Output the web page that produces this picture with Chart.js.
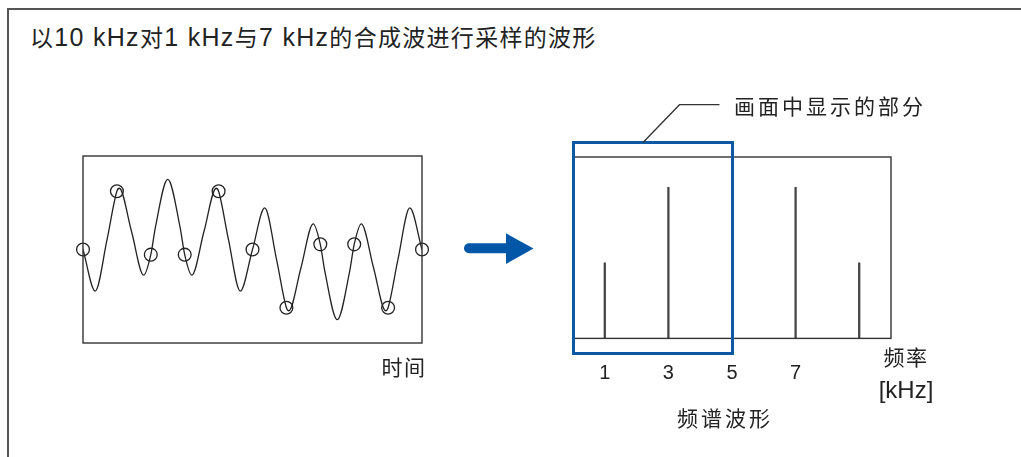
<!DOCTYPE html>
<html><head><meta charset="utf-8">
<script src="https://cdn.jsdelivr.net/npm/chart.js@4.4.1/dist/chart.umd.min.js"></script>
<style>
html,body{margin:0;padding:0;background:#fff;}
#wrap{position:relative;width:1021px;height:457px;overflow:hidden;background:#fff;
  font-family:"Liberation Sans","Noto Sans CJK SC",sans-serif;color:#222;}
.frame{position:absolute;left:7px;top:8px;width:1030px;height:470px;border-left:2px solid #555;border-top:2px solid #555;}
.t{position:absolute;white-space:nowrap;transform:translate(-50%,-50%);line-height:1;}
.c{font-size:23px;}
canvas{position:absolute;}
#blue{position:absolute;box-sizing:border-box;left:572px;top:141px;width:162px;height:214px;border:3px solid #0f58a6;}
</style></head>
<body><div id="wrap">
<div class="frame"></div>
<div class="t" id="title" style="left:30px;top:37px;transform:translate(0,-50%);font-size:25px;letter-spacing:1.3px;"><span class="c">以</span>10 kHz<span class="c">对</span>1 kHz<span class="c">与</span>7 kHz<span class="c">的合成波进行采样的波形</span></div>
<canvas id="wave" width="359" height="207" style="left:73px;top:146px;"></canvas>
<canvas id="spec" width="338" height="238" style="left:563px;top:147px;"></canvas>
<div id="blue"></div>
<svg style="position:absolute;left:0;top:0;" width="1021" height="457">
  <line x1="469" y1="248.3" x2="510" y2="248.3" stroke="#0057a8" stroke-width="10" stroke-linecap="round"/>
  <polygon points="506,233.3 533.5,248.5 506,264" fill="#0057a8"/>
  <polyline points="643,142.5 679.5,104.7 719.5,104.7" fill="none" stroke="#333" stroke-width="1.3"/>
</svg>
<div class="t" style="left:734px;top:106px;transform:translate(0,-50%);font-size:21px;letter-spacing:3px;">画面中显示的部分</div>
<div class="t" style="left:404px;top:367px;font-size:21px;letter-spacing:1.5px;">时间</div>
<div class="t" style="left:906px;top:357px;font-size:21px;letter-spacing:1.5px;">频率</div>
<div class="t" style="left:906px;top:390px;font-size:24px;">[kHz]</div>
<div class="t" style="left:725px;top:418px;font-size:21px;letter-spacing:3px;">频谱波形</div>
</div>
<script>
// Composite waveform (1 kHz + 7 kHz), time in ms, amplitude in arbitrary units
const waveTime  = [0, 0.036, 0.071, 0.1, 0.107, 0.143, 0.179, 0.2, 0.214, 0.25, 0.286, 0.3, 0.321, 0.357, 0.393, 0.4, 0.429, 0.464, 0.5,
                   0.536, 0.571, 0.6, 0.607, 0.643, 0.679, 0.7, 0.714, 0.75, 0.786, 0.8, 0.821, 0.857, 0.893, 0.9, 0.929, 0.964, 1];
const waveValue = [0, -1.78, 0.43, 2.49, 2.62, 0.78, -1.10, -0.22, 0.98, 3.00, 0.98, -0.22, -1.10, 0.78, 2.62, 2.49, 0.43, -1.78, 0,
                   1.78, -0.43, -2.49, -2.62, -0.78, 1.10, 0.22, -0.98, -3.00, -0.98, 0.22, 1.10, -0.78, -2.62, -2.49, -0.43, 1.78, 0];
// Sampling points at 10 kHz
const sampleTime  = [0, 0.1, 0.2, 0.3, 0.4, 0.5, 0.6, 0.7, 0.8, 0.9, 1.0];
const sampleValue = [0, 2.49, -0.22, -0.22, 2.49, 0, -2.49, 0.22, 0.22, -2.49, 0];
// Spectrum
const specFreq = [1, 3, 7, 9];
const specAmp  = [1, 2, 2, 1];
const specTicks = [1, 3, 5, 7];

const boxPlugin = {
  id: 'box',
  afterDatasetsDraw(chart) {
    const a = chart.chartArea, c = chart.ctx;
    c.save(); c.strokeStyle = '#333'; c.lineWidth = 1.4;
    c.strokeRect(a.left, a.top, a.right - a.left, a.bottom - a.top);
    c.restore();
  }
};

new Chart(document.getElementById('wave'), {
  type: 'scatter',
  data: { datasets: [
    { type: 'line', data: waveTime.map((t, i) => ({x: t, y: waveValue[i]})),
      borderColor: '#222', borderWidth: 1.3, pointRadius: 0, cubicInterpolationMode: 'monotone', fill: false },
    { type: 'scatter', data: sampleTime.map((t, i) => ({x: t, y: sampleValue[i]})),
      pointRadius: 6.4, pointBorderWidth: 1.3, pointBorderColor: '#222', pointBackgroundColor: 'rgba(0,0,0,0)', clip: false }
  ]},
  options: {
    responsive: false, animation: false, devicePixelRatio: 1,
    layout: { padding: { left: 10, right: 10, top: 10, bottom: 10 } },
    plugins: { legend: { display: false }, tooltip: { enabled: false } },
    scales: {
      x: { type: 'linear', min: 0, max: 1, display: false },
      y: { type: 'linear', min: -4, max: 4, display: false }
    }
  },
  plugins: [boxPlugin]
});

new Chart(document.getElementById('spec'), {
  type: 'bar',
  data: { datasets: [
    { data: specFreq.map((f, i) => ({x: f, y: specAmp[i]})), backgroundColor: '#444', borderWidth: 0, barThickness: 1.6 }
  ]},
  options: {
    responsive: false, animation: false, devicePixelRatio: 1,
    layout: { padding: { left: 10, right: 10, top: 10, bottom: 0 } },
    plugins: { legend: { display: false }, tooltip: { enabled: false } },
    scales: {
      x: { type: 'linear', min: 0, max: 10, offset: false,
           grid: { display: false, drawTicks: false }, border: { display: false },
           afterBuildTicks: (s) => { s.ticks = specTicks.map(v => ({value: v})); },
           afterFit: (s) => { s.height = 46.6; },
           ticks: { padding: 23.5, maxRotation: 0, autoSkip: false, color: '#222', font: { family: 'Liberation Sans', size: 20 } } },
      y: { type: 'linear', min: 0, max: 2.4, display: false }
    }
  },
  plugins: [boxPlugin]
});
</script>
</body></html>
